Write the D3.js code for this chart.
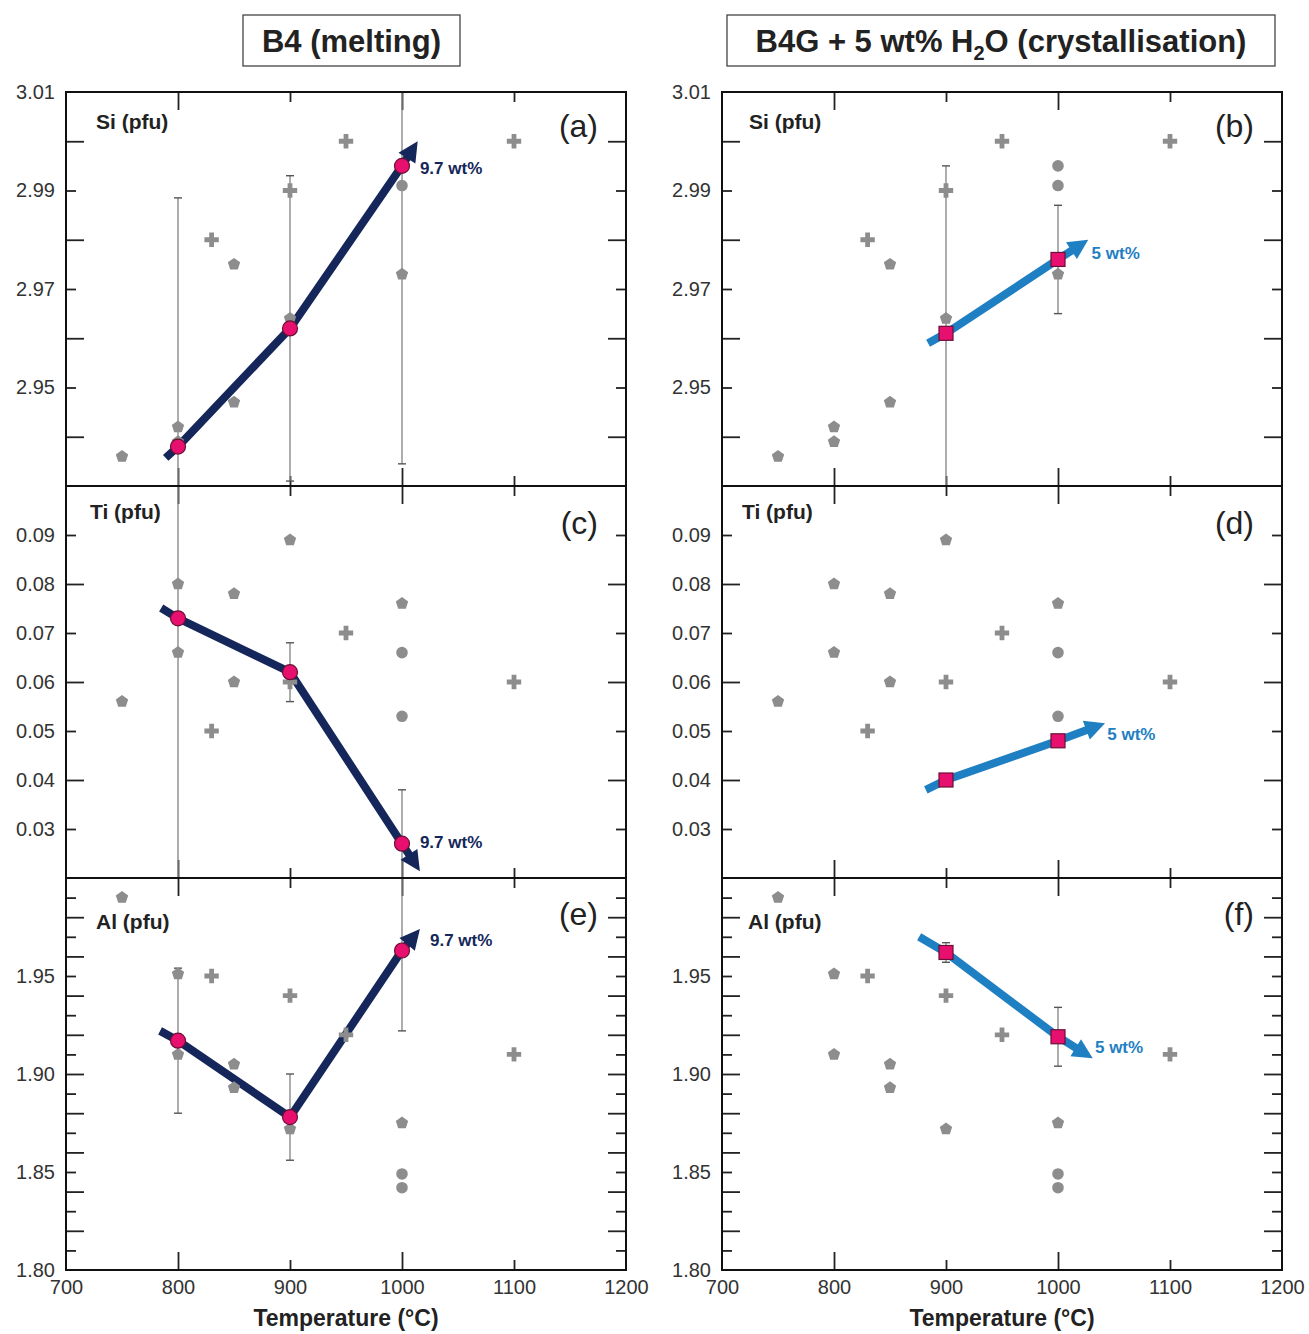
<!DOCTYPE html>
<html><head><meta charset="utf-8">
<script src="https://cdn.jsdelivr.net/npm/d3@7"></script>
<style>body{margin:0;background:#fff}svg{display:block}</style>
</head><body>
<svg id="chart" width="1309" height="1334"></svg>
<script>
// ---------------- DATA ----------------
const xTicks = [700, 800, 900, 1000, 1100, 1200];
const xLongTicks = [800, 1000];
const xShortTicks = [900, 1100];
const siTickLabels = [3.01, 2.99, 2.97, 2.95];
const tiTickLabels = [0.09, 0.08, 0.07, 0.06, 0.05, 0.04, 0.03];
const alTickLabels = [1.80, 1.85, 1.90, 1.95];
const siDomain = [2.93, 3.01];
const tiDomain = [0.02, 0.10];
const alDomain = [1.80, 2.00];

// literature data (grey): [temperature, value, shape] p=pentagon x=cross c=circle
const siRef = [[750,2.936,"p"],[800,2.942,"p"],[800,2.939,"p"],[830,2.980,"x"],[850,2.975,"p"],[850,2.947,"p"],
  [900,2.990,"x"],[900,2.964,"p"],[950,3.000,"x"],[1000,2.995,"c"],[1000,2.991,"c"],[1000,2.973,"p"],[1100,3.000,"x"]];
const tiRef = [[750,0.056,"p"],[800,0.080,"p"],[800,0.066,"p"],[830,0.050,"x"],[850,0.078,"p"],[850,0.060,"p"],
  [900,0.089,"p"],[900,0.060,"x"],[950,0.070,"x"],[1000,0.076,"p"],[1000,0.066,"c"],[1000,0.053,"c"],[1100,0.060,"x"]];
const alRef = [[750,1.990,"p"],[800,1.951,"p"],[800,1.910,"p"],[830,1.950,"x"],[850,1.905,"p"],[850,1.893,"p"],
  [900,1.940,"x"],[900,1.872,"p"],[950,1.920,"x"],[1000,1.875,"p"],[1000,1.849,"c"],[1000,1.842,"c"],[1100,1.910,"x"]];

// B4 melting
const meltTemps = [800, 900, 1000];
const meltSi = [2.938, 2.962, 2.995];
const meltSiErr = [0.0505, 0.031, 0.0605];
const meltTi = [0.073, 0.062, 0.027];
const meltTiErr = [0.053, 0.006, 0.011];
const meltAl = [1.917, 1.878, 1.963];
const meltAlErr = [0.037, 0.022, 0.041];
const meltSiArrow = [[789, 2.9357], [1014, 3.000]];
const meltTiArrow = [[785, 0.0751], [1016, 0.0214]];
const meltAlArrow = [[784, 1.922], [1016, 1.974]];
const meltLabel = "9.7 wt%";
const meltSiLabelAt = [1016, 2.9945];
const meltTiLabelAt = [1016, 0.0273];
const meltAlLabelAt = [1025, 1.9685];

// B4G + 5 wt% H2O crystallisation
const crystTemps = [900, 1000];
const crystSi = [2.961, 2.976];
const crystSiErr = [0.034, 0.011];
const crystTi = [0.040, 0.048];
const crystTiErr = [0, 0];
const crystAl = [1.962, 1.919];
const crystAlErr = [0.005, 0.015];
const crystSiArrow = [[884, 2.959], [1027, 2.980]];
const crystTiArrow = [[882, 0.038], [1042, 0.0516]];
const crystAlArrow = [[876, 1.970], [1031, 1.908]];
const crystLabel = "5 wt%";
const crystSiLabelAt = [1030, 2.9773];
const crystTiLabelAt = [1044, 0.0494];
const crystAlLabelAt = [1033, 1.9137];

// ---------------- DRAW ----------------
const svg = d3.select("#chart");
const FONT = "'Liberation Sans', Arial, sans-serif";
const NAVY = "#15275a", BLUE = "#1f7fc3", PINK = "#e8106f", GREY = "#8d8d8d";

const pentagon = {
  draw(ctx, size) {
    const r = Math.sqrt(size / 2.378);
    for (let i = 0; i < 5; i++) {
      const a = -Math.PI / 2 + i * 2 * Math.PI / 5;
      const px = r * Math.cos(a), py = r * Math.sin(a);
      if (i === 0) ctx.moveTo(px, py); else ctx.lineTo(px, py);
    }
    ctx.closePath();
  }
};
const symFor = s => s === "p" ? d3.symbol(pentagon, 100)() : s === "x" ? d3.symbol(d3.symbolCross, 115)() : d3.symbol(d3.symbolCircle, 105)();

const columns = [
  {x0: 66, x1: 626, title: "B4 (melting)", box: [243, 15, 217, 51], color: NAVY, marker: "circle", label: meltLabel, temps: meltTemps},
  {x0: 722, x1: 1282, title: "B4G", box: [727, 15, 548, 51], color: BLUE, marker: "square", label: crystLabel, temps: crystTemps}
];
const rows = [
  {y0: 92, y1: 486, domain: siDomain, labels: siTickLabels, ref: siRef, name: "Si (pfu)", nameDy: 29, letterDy: 33},
  {y0: 486, y1: 878, domain: tiDomain, labels: tiTickLabels, ref: tiRef, name: "Ti (pfu)", nameDy: 25, letterDy: 36},
  {y0: 878, y1: 1270, domain: alDomain, labels: alTickLabels, ref: alRef, name: "Al (pfu)", nameDy: 43, letterDy: 35}
];
const panelData = [
  [ {vals: meltSi, errs: meltSiErr, arrow: meltSiArrow, lab: meltSiLabelAt, letter: "(a)", nameX: 96},
    {vals: meltTi, errs: meltTiErr, arrow: meltTiArrow, lab: meltTiLabelAt, letter: "(c)", nameX: 90},
    {vals: meltAl, errs: meltAlErr, arrow: meltAlArrow, lab: meltAlLabelAt, letter: "(e)", nameX: 96} ],
  [ {vals: crystSi, errs: crystSiErr, arrow: crystSiArrow, lab: crystSiLabelAt, letter: "(b)", nameX: 749},
    {vals: crystTi, errs: crystTiErr, arrow: crystTiArrow, lab: crystTiLabelAt, letter: "(d)", nameX: 742},
    {vals: crystAl, errs: crystAlErr, arrow: crystAlArrow, lab: crystAlLabelAt, letter: "(f)", nameX: 748} ]
];

const defs = svg.append("defs");

columns.forEach((col, ci) => {
  const x = d3.scaleLinear().domain([700, 1200]).range([col.x0, col.x1]);

  // title box
  svg.append("rect").attr("x", col.box[0]).attr("y", col.box[1]).attr("width", col.box[2]).attr("height", col.box[3])
    .attr("fill", "#fff").attr("stroke", "#444").attr("stroke-width", 1.3);
  const tt = svg.append("text").attr("x", col.box[0] + col.box[2] / 2).attr("y", col.box[1] + col.box[3] / 2)
    .attr("dy", "0.36em").attr("text-anchor", "middle").attr("font-family", FONT).attr("font-weight", "bold")
    .attr("font-size", 31).attr("fill", "#222");
  if (ci === 0) tt.text(col.title);
  else {
    tt.append("tspan").text("B4G + 5 wt% H");
    tt.append("tspan").attr("font-size", 20).attr("dy", 8).text("2");
    tt.append("tspan").attr("dy", -8).text("O (crystallisation)");
  }

  rows.forEach((row, ri) => {
    const pd = panelData[ci][ri];
    const y = d3.scaleLinear().domain(row.domain).range([row.y1, row.y0]);
    const g = svg.append("g");
    const clipId = `clip${ci}${ri}`;
    defs.append("clipPath").attr("id", clipId).append("rect")
      .attr("x", col.x0).attr("y", row.y0).attr("width", col.x1 - col.x0).attr("height", row.y1 - row.y0);

    // y ticks every 0.01: odd hundredths short, even long
    const lo = Math.round(row.domain[0] * 100), hi = Math.round(row.domain[1] * 100);
    const all = d3.range(lo + 1, hi).map(v => v / 100);
    const oddT = all.filter(v => Math.round(v * 100) % 2 === 1);
    const evenT = all.filter(v => Math.round(v * 100) % 2 === 0);
    const tickStyle = s => { s.select(".domain").remove(); s.selectAll(".tick line").attr("stroke", "#222").attr("stroke-width", 1.8); s.selectAll("text").remove(); };
    [[oddT, 10], [evenT, 18]].forEach(([vals, len]) => {
      g.append("g").attr("transform", `translate(${col.x0},0)`)
        .call(d3.axisLeft(y).tickValues(vals).tickSizeInner(-len).tickSizeOuter(0)).call(tickStyle);
      g.append("g").attr("transform", `translate(${col.x1},0)`)
        .call(d3.axisRight(y).tickValues(vals).tickSizeInner(-len).tickSizeOuter(0)).call(tickStyle);
    });
    // x ticks top and bottom
    [[xLongTicks, 18], [xShortTicks, 10]].forEach(([vals, len]) => {
      g.append("g").attr("transform", `translate(0,${row.y1})`)
        .call(d3.axisBottom(x).tickValues(vals).tickSizeInner(-len).tickSizeOuter(0)).call(tickStyle);
      g.append("g").attr("transform", `translate(0,${row.y0})`)
        .call(d3.axisTop(x).tickValues(vals).tickSizeInner(-len).tickSizeOuter(0)).call(tickStyle);
    });
    // y labels
    const yl = g.append("g").attr("transform", `translate(${col.x0},0)`)
      .call(d3.axisLeft(y).tickValues(row.labels).tickSize(0).tickPadding(11).tickFormat(d3.format(".2f")));
    yl.select(".domain").remove();
    yl.selectAll("text").attr("font-family", FONT).attr("font-size", 20).attr("fill", "#333");

    // x labels on bottom row
    if (ri === 2) {
      const xl = g.append("g").attr("transform", `translate(0,${row.y1})`)
        .call(d3.axisBottom(x).tickValues(xTicks).tickSize(0).tickPadding(10).tickFormat(d3.format("d")));
      xl.select(".domain").remove();
      xl.selectAll("text").attr("font-family", FONT).attr("font-size", 20).attr("fill", "#333");
    }

    const plot = g.append("g").attr("clip-path", `url(#${clipId})`);

    // error bars
    const eb = plot.append("g");
    col.temps.forEach((t, i) => {
      const e = pd.errs[i];
      if (!e) return;
      const xp = x(t), ya = y(pd.vals[i] + e), yb = y(pd.vals[i] - e);
      eb.append("line").attr("x1", xp).attr("x2", xp).attr("y1", ya).attr("y2", yb).attr("stroke", "#8a8a8a").attr("stroke-width", 1.4);
      [ya, yb].forEach(yy => eb.append("line").attr("x1", xp - 4).attr("x2", xp + 4).attr("y1", yy).attr("y2", yy)
        .attr("stroke", "#555").attr("stroke-width", 1.4));
    });

    // trend arrow
    const pts = [pd.arrow[0], ...col.temps.map((t, i) => [t, pd.vals[i]]), pd.arrow[1]].map(p => [x(p[0]), y(p[1])]);
    const tip = pts[pts.length - 1], prev = pts[pts.length - 2];
    const dx = tip[0] - prev[0], dy = tip[1] - prev[1], L = Math.hypot(dx, dy);
    const ux = dx / L, uy = dy / L, nx = -uy, ny = ux;
    const headLen = 20, headHalf = 10;
    const base = [tip[0] - ux * headLen, tip[1] - uy * headLen];
    const linePts = pts.slice(0, -1).concat([[base[0] + ux * 2, base[1] + uy * 2]]);
    svg.append("path").attr("d", d3.line()(linePts)).attr("fill", "none").attr("stroke", col.color)
      .attr("stroke-width", 8).attr("stroke-linejoin", "miter");
    svg.append("path").attr("d", d3.line()([tip, [base[0] + nx * headHalf, base[1] + ny * headHalf], [base[0] - nx * headHalf, base[1] - ny * headHalf]]) + "Z")
      .attr("fill", col.color);

    // grey reference markers
    svg.append("g").selectAll("path").data(row.ref).join("path")
      .attr("transform", d => `translate(${x(d[0])},${y(d[1])})`)
      .attr("d", d => symFor(d[2])).attr("fill", GREY);

    // coloured markers
    const mg = svg.append("g");
    col.temps.forEach((t, i) => {
      if (col.marker === "circle") {
        mg.append("circle").attr("cx", x(t)).attr("cy", y(pd.vals[i])).attr("r", 7.5)
          .attr("fill", PINK).attr("stroke", "#6a1035").attr("stroke-width", 1.2);
      } else {
        mg.append("rect").attr("x", x(t) - 7).attr("y", y(pd.vals[i]) - 7).attr("width", 14).attr("height", 14)
          .attr("fill", PINK).attr("stroke", "#6a1035").attr("stroke-width", 1.2);
      }
    });

    // arrow label
    svg.append("text").attr("x", x(pd.lab[0])).attr("y", y(pd.lab[1])).attr("dy", "0.36em")
      .attr("font-family", FONT).attr("font-weight", "bold").attr("font-size", 17).attr("fill", col.color)
      .text(col.label);

    // frame
    svg.append("rect").attr("x", col.x0).attr("y", row.y0).attr("width", col.x1 - col.x0).attr("height", row.y1 - row.y0)
      .attr("fill", "none").attr("stroke", "#111").attr("stroke-width", 2);

    // element name & panel letter
    svg.append("text").attr("x", pd.nameX).attr("y", row.y0 + row.nameDy).attr("dy", "0.36em")
      .attr("font-family", FONT).attr("font-weight", "bold").attr("font-size", 21).attr("fill", "#222").text(row.name);
    svg.append("text").attr("x", col.x1 - 28).attr("y", row.y0 + row.letterDy).attr("dy", "0.36em").attr("text-anchor", "end")
      .attr("font-family", FONT).attr("font-size", 32).attr("fill", "#222").text(pd.letter);
  });

  svg.append("text").attr("x", (col.x0 + col.x1) / 2).attr("y", 1318).attr("dy", "0.36em").attr("text-anchor", "middle")
    .attr("font-family", FONT).attr("font-weight", "bold").attr("font-size", 23).attr("fill", "#222").text("Temperature (°C)");
});
</script>
</body></html>
